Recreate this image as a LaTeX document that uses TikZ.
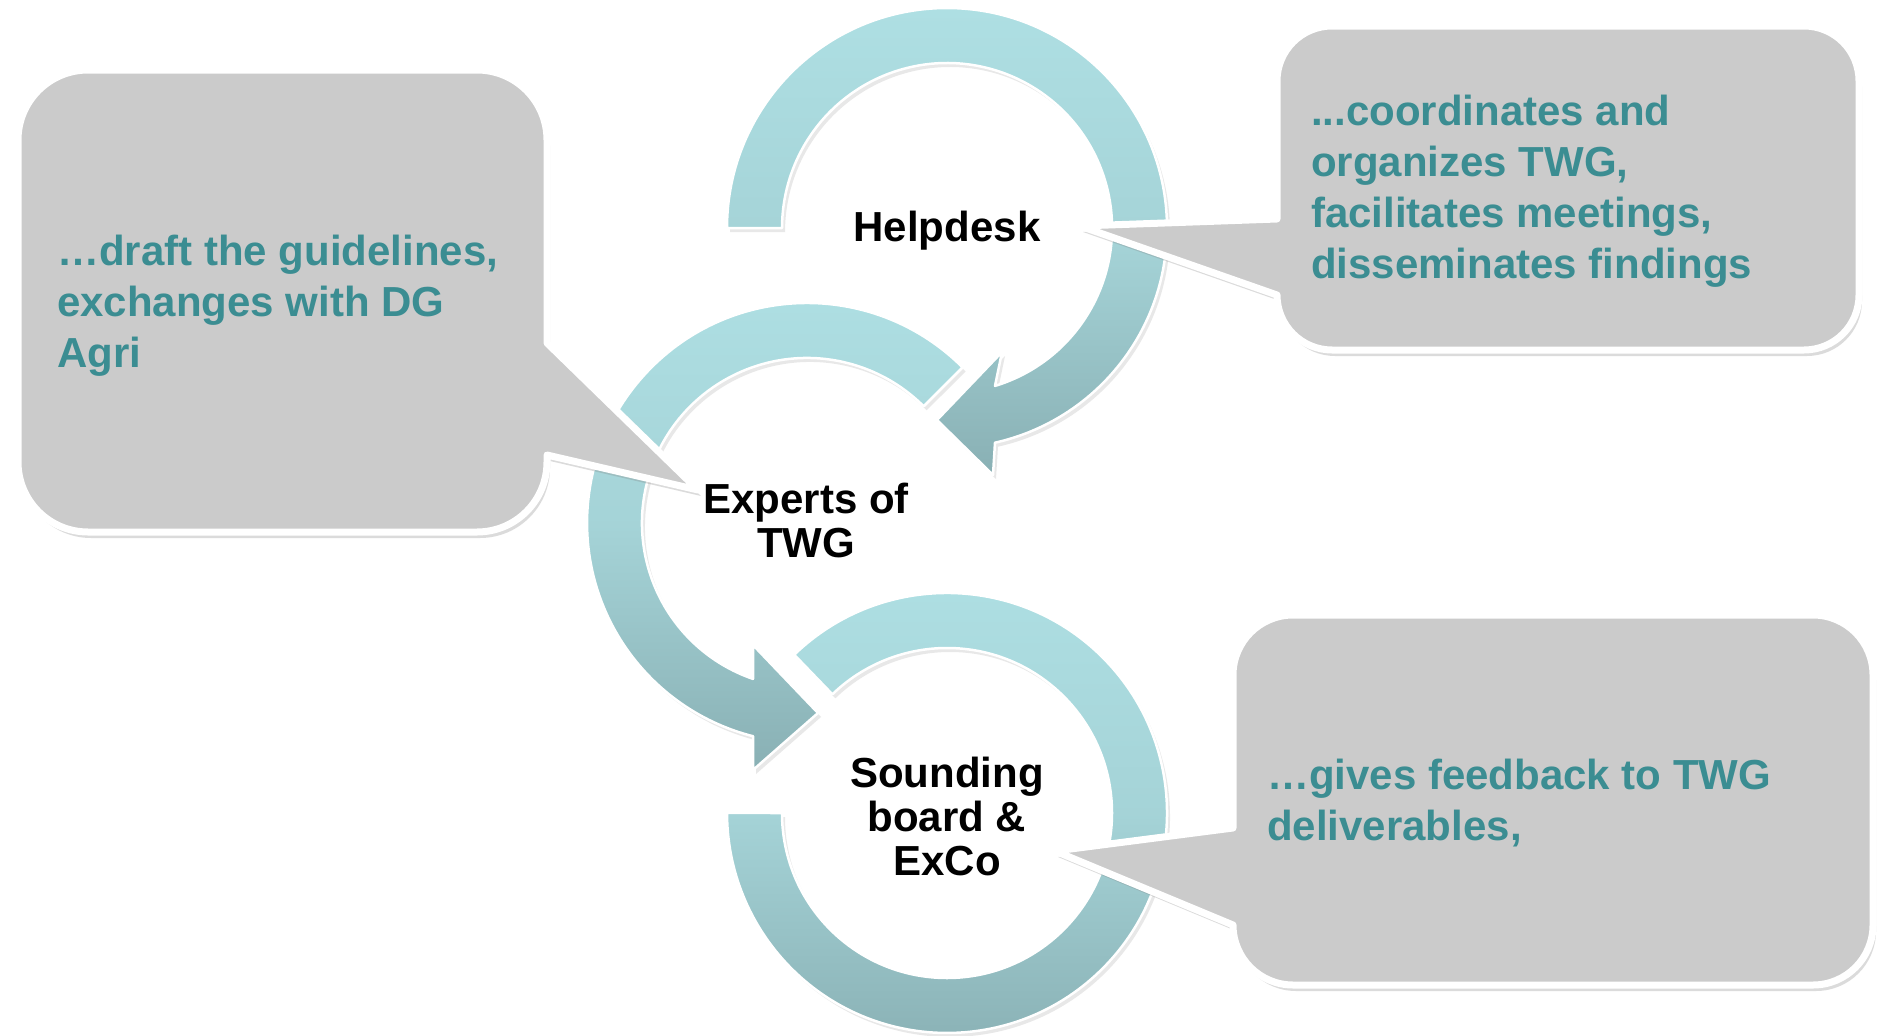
\documentclass[tikz,border=0pt]{standalone}
\usepackage{fontspec}
\setmainfont{Liberation Sans}
\usetikzlibrary{shadows}
\definecolor{ringlight}{RGB}{174,223,227}
\definecolor{ringdark}{RGB}{137,176,180}
\definecolor{calloutgray}{RGB}{203,203,203}
\definecolor{tealtext}{RGB}{59,141,146}
\begin{document}
\begin{tikzpicture}[x=1pt,y=1pt,
  ring/.style={top color=ringlight, bottom color=ringdark, middle color=ringlight!75!ringdark,
    draw=white, line width=2.5pt, line join=round,
    drop shadow={opacity=0.18, shadow xshift=3pt, shadow yshift=-4pt}},
  callout/.style={fill=calloutgray, draw=white, line width=7pt, line join=round,
    drop shadow={opacity=0.28, shadow xshift=3pt, shadow yshift=-6pt}},
  bubbletext/.style={font=\bfseries\fontsize{42}{51}\selectfont, text=tealtext,
    align=left, anchor=base west, inner sep=0pt},
  centerlabel/.style={font=\bfseries\fontsize{42}{44}\selectfont, text=black,
    align=center, anchor=base, inner sep=0pt}
]
\useasboundingbox (0,0) rectangle (1877,-1036);
\fill[white] (0,0) rectangle (1877,-1036);

% rings
\path[ring] (794.2,-654.7) arc[start angle=134,end angle=-180,radius=220]
  -- (782,-813) arc[start angle=-180,end angle=134,radius=165] -- cycle;
\path[ring] (962.6,-367.4) arc[start angle=45,end angle=255.8,radius=220]
  -- (753,-770) -- (818,-713) -- (753,-645) -- (753.0,-678.9)
  arc[start angle=250.9,end angle=45,radius=165] -- cycle;
\path[ring] (727,-228) arc[start angle=180,end angle=-77.4,radius=220]
  -- (993,-475) -- (937,-420) -- (1002,-352) -- (995,-385.9)
  arc[start angle=-73.1,end angle=180,radius=165] -- cycle;

% callouts
\path[callout] (88,-70) -- (477,-70) arc[start angle=90,end angle=0,radius=70]
  -- (547,-343) -- (698,-490) -- (547,-455) -- (547,-462)
  arc[start angle=0,end angle=-90,radius=70] -- (88,-532)
  arc[start angle=270,end angle=180,radius=70] -- (18,-140)
  arc[start angle=180,end angle=90,radius=70] -- cycle;
\path[callout] (1332,-26) -- (1804,-26) arc[start angle=90,end angle=0,radius=55]
  -- (1859,-295) arc[start angle=0,end angle=-90,radius=55] -- (1332,-350)
  arc[start angle=270,end angle=180,radius=55] -- (1080,-226) -- (1277,-219)
  -- (1277,-81) arc[start angle=180,end angle=90,radius=55] -- cycle;
\path[callout] (1293,-615) -- (1813,-615) arc[start angle=90,end angle=0,radius=60]
  -- (1873,-925) arc[start angle=0,end angle=-90,radius=60] -- (1293,-985)
  arc[start angle=270,end angle=180,radius=60] -- (1055,-851) -- (1233,-828)
  -- (1233,-675) arc[start angle=180,end angle=90,radius=60] -- cycle;

% texts (base anchor = baseline of the last line)
\node[bubbletext] (expertsnote) at (57,-367) {…draft the guidelines,\\exchanges with DG\\Agri};
\node[bubbletext] (helpdesknote) at (1311,-278) {...coordinates and\\organizes TWG,\\facilitates meetings,\\disseminates findings};
\node[bubbletext] (soundingnote) at (1267,-840) {…gives feedback to TWG\\deliverables,};

\node[centerlabel] (helpdesk) at (947,-241) {Helpdesk};
\node[centerlabel] (experts) at (806,-557) {Experts of\\TWG};
\node[centerlabel] (sounding) at (947,-875) {Sounding\\board \&\\ExCo};
\end{tikzpicture}
\end{document}
